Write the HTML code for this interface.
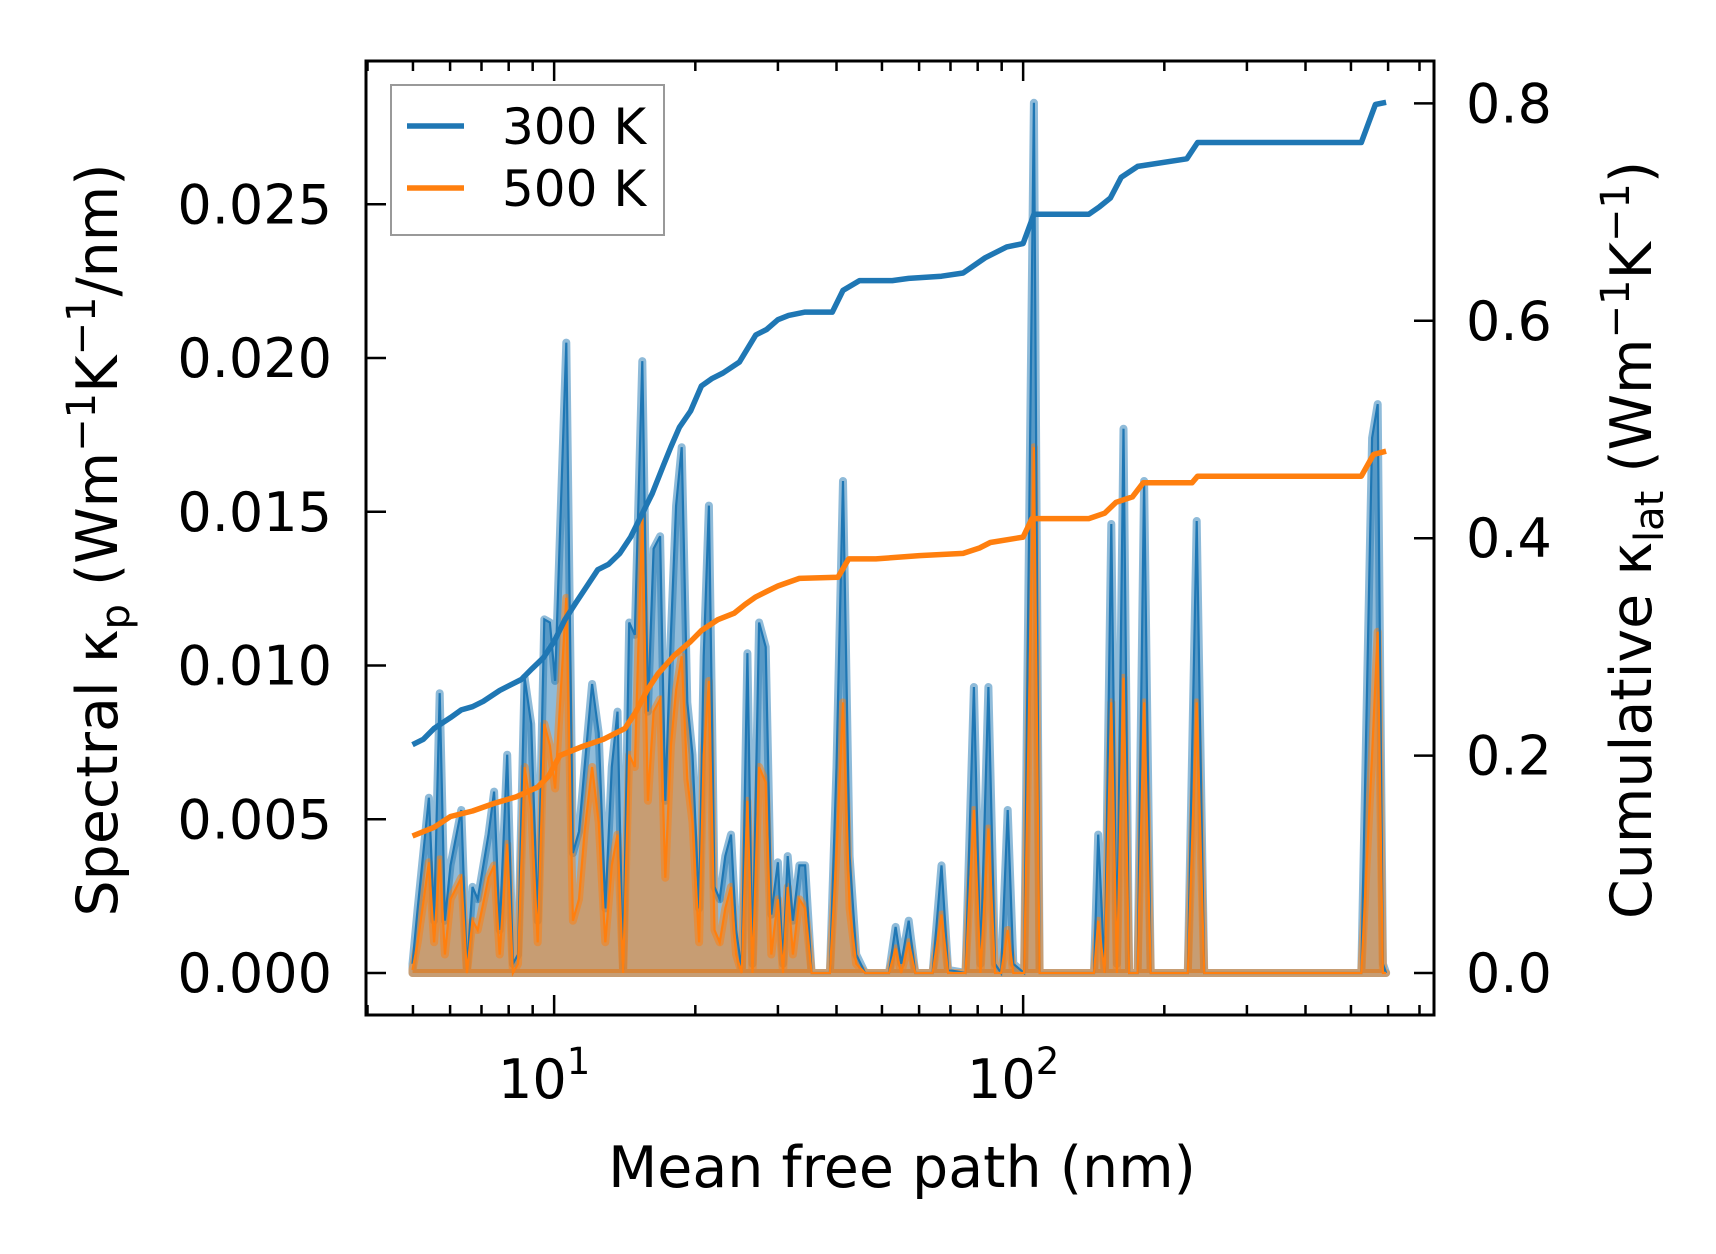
<!DOCTYPE html>
<html><head><meta charset="utf-8"><style>
html,body{margin:0;padding:0;background:#fff;}
svg{display:block;font-family:"DejaVu Sans","Liberation Sans",sans-serif;}
</style></head><body>
<svg id="chart" width="1716" height="1254" viewBox="0 0 1716 1254" xmlns="http://www.w3.org/2000/svg"></svg>
<script>
// ---- data (log10 of mean free path in nm, spectral kappa) ----
const specLogMfp = [0.698,0.709,0.733,0.744,0.756,0.767,0.779,0.802,0.814,0.826,0.837,0.860,0.872,0.884,0.900,0.912,0.923,0.937,0.951,0.965,0.979,0.991,1.002,1.026,1.040,1.053,1.065,1.081,1.095,1.109,1.123,1.135,1.147,1.160,1.172,1.188,1.200,1.212,1.226,1.237,1.249,1.260,1.272,1.284,1.295,1.309,1.319,1.330,1.342,1.353,1.365,1.377,1.388,1.400,1.412,1.423,1.437,1.451,1.463,1.477,1.488,1.498,1.509,1.523,1.535,1.549,1.588,1.602,1.616,1.630,1.644,1.663,1.714,1.728,1.740,1.756,1.770,1.807,1.826,1.840,1.877,1.895,1.909,1.926,1.940,1.953,1.967,1.979,2.002,2.023,2.035,2.151,2.160,2.174,2.188,2.200,2.214,2.226,2.244,2.258,2.272,2.351,2.370,2.386,2.721,2.744,2.756,2.767,2.774];
const spec300 = [0.0003,0.0021,0.0057,0.0017,0.0091,0.0017,0.0035,0.0053,0.0001,0.0028,0.0024,0.0045,0.0059,0.0014,0.0071,0.0003,0.0006,0.0096,0.0081,0.0017,0.0115,0.0114,0.0095,0.0205,0.0039,0.0046,0.0067,0.0094,0.0078,0.0021,0.0067,0.0085,0.0001,0.0114,0.0110,0.0199,0.0085,0.0138,0.0142,0.0056,0.0110,0.0152,0.0171,0.0088,0.0071,0.0021,0.0103,0.0152,0.0028,0.0024,0.0038,0.0045,0.0014,0.0001,0.0104,0.0003,0.0114,0.0106,0.0019,0.0036,0.0003,0.0038,0.0017,0.0035,0.0035,0,0,0.0067,0.0160,0.0038,0.0006,0,0,0.0015,0.0003,0.0017,0,0,0.0035,0.0001,0,0.0093,0.0003,0.0093,0.0003,0,0.0053,0.0003,0,0.0283,0,0,0.0045,0,0.0146,0.0003,0.0177,0,0,0.0160,0,0,0.0147,0,0,0.0174,0.0185,0.0003,0];
const spec500 = [0.0001,0.0010,0.0036,0.0010,0.0037,0.0006,0.0024,0.0031,0,0.0017,0.0014,0.0031,0.0035,0.0006,0.0042,0,0.0003,0.0067,0.0053,0.0010,0.0081,0.0074,0.0060,0.0122,0.0017,0.0024,0.0046,0.0067,0.0049,0.0010,0.0035,0.0045,0,0.0071,0.0067,0.0149,0.0056,0.0085,0.0089,0.0031,0.0074,0.0092,0.0103,0.0063,0.0049,0.0010,0.0071,0.0095,0.0014,0.0010,0.0021,0.0028,0.0006,0,0.0056,0,0.0067,0.0062,0.0006,0.0024,0,0.0028,0.0006,0.0024,0.0021,0,0,0.0039,0.0088,0.0021,0.0003,0,0,0.0008,0,0.0010,0,0,0.0019,0,0,0.0053,0,0.0047,0,0,0.0014,0,0,0.0171,0,0,0.0017,0,0.0088,0,0.0096,0,0,0.0088,0,0,0.0088,0,0,0.0071,0.0111,0,0];
const cumLogMfp300 = [0.698,0.721,0.744,0.779,0.802,0.826,0.849,0.884,0.907,0.930,0.953,0.977,1.000,1.023,1.047,1.070,1.093,1.116,1.140,1.163,1.186,1.209,1.233,1.249,1.267,1.291,1.314,1.337,1.360,1.395,1.430,1.453,1.477,1.500,1.535,1.593,1.616,1.651,1.721,1.756,1.826,1.872,1.919,1.965,2.000,2.023,2.140,2.163,2.186,2.209,2.244,2.349,2.372,2.721,2.751,2.774];
const cum300 = [0.210,0.215,0.225,0.235,0.242,0.245,0.250,0.260,0.265,0.270,0.280,0.290,0.305,0.325,0.341,0.356,0.371,0.376,0.386,0.401,0.421,0.441,0.467,0.484,0.502,0.517,0.540,0.547,0.552,0.562,0.587,0.592,0.601,0.605,0.608,0.608,0.628,0.637,0.637,0.639,0.641,0.644,0.658,0.668,0.671,0.698,0.698,0.705,0.713,0.732,0.742,0.749,0.764,0.764,0.799,0.801];
const cumLogMfp500 = [0.698,0.744,0.779,0.826,0.872,0.919,0.965,0.988,1.012,1.058,1.105,1.151,1.174,1.198,1.221,1.256,1.291,1.314,1.349,1.384,1.407,1.430,1.453,1.477,1.523,1.605,1.628,1.686,1.779,1.872,1.907,1.930,2.000,2.019,2.140,2.174,2.198,2.233,2.256,2.360,2.372,2.721,2.747,2.774];
const cum500 = [0.126,0.134,0.144,0.149,0.156,0.162,0.171,0.181,0.200,0.208,0.215,0.225,0.240,0.260,0.275,0.292,0.305,0.315,0.325,0.331,0.339,0.346,0.351,0.356,0.363,0.364,0.381,0.381,0.384,0.386,0.391,0.396,0.401,0.418,0.418,0.423,0.433,0.438,0.451,0.451,0.457,0.457,0.477,0.480];
const leftTicks = [0,0.005,0.010,0.015,0.020,0.025];
const leftTickLabels = ["0.000","0.005","0.010","0.015","0.020","0.025"];
const rightTicks = [0,0.2,0.4,0.6,0.8];
const rightTickLabels = ["0.0","0.2","0.4","0.6","0.8"];
const xMajorExp = [1,2];

// ---- axes ----
const L=366,R=1434,T=61,B=1015;
const xs = lg => 412.5 + (lg-0.698)*469;
const yl = v => 973 - v*30750;
const yr = v => 973 - v*1087;
const NS="http://www.w3.org/2000/svg";
const svg=document.getElementById('chart');
function mk(tag,attrs,parent){const e=document.createElementNS(NS,tag);for(const k in attrs)e.setAttribute(k,attrs[k]);(parent||svg).appendChild(e);return e;}

const gPlot=mk('g',{});



function areaPath(xsArr,ys){let d='M'+xs(xsArr[0]).toFixed(1)+','+yl(0);for(let i=0;i<xsArr.length;i++)d+='L'+xs(xsArr[i]).toFixed(1)+','+yl(ys[i]).toFixed(1);d+='L'+xs(xsArr[xsArr.length-1]).toFixed(1)+','+yl(0)+'Z';return d;}
function linePath(xsArr,ys,yf){let d='';for(let i=0;i<xsArr.length;i++)d+=(i?'L':'M')+xs(xsArr[i]).toFixed(1)+','+yf(ys[i]).toFixed(1);return d;}

const a3=mk('path',{d:areaPath(specLogMfp,spec300),fill:'#1f77b4','fill-opacity':0.5,stroke:'#1f77b4','stroke-opacity':0.5,'stroke-width':8,'stroke-linejoin':'round'},gPlot);


const a5=mk('path',{d:areaPath(specLogMfp,spec500),fill:'#ff7f0e','fill-opacity':0.5,stroke:'#ff7f0e','stroke-opacity':0.5,'stroke-width':8,'stroke-linejoin':'round'},gPlot);


const l3=mk('path',{d:linePath(specLogMfp,spec300,yl),fill:'none',stroke:'#1f77b4','stroke-width':2.2},gPlot);


const l5=mk('path',{d:linePath(specLogMfp,spec500,yl),fill:'none',stroke:'#ff7f0e','stroke-width':2.2},gPlot);


const c3=mk('path',{d:linePath(cumLogMfp300,cum300,yr),fill:'none',stroke:'#1f77b4','stroke-width':5.5,'stroke-linejoin':'round'},gPlot);


const c5=mk('path',{d:linePath(cumLogMfp500,cum500,yr),fill:'none',stroke:'#ff7f0e','stroke-width':5.5,'stroke-linejoin':'round'},gPlot);



// frame
const frame=mk('rect',{x:L,y:T,width:R-L,height:B-T,fill:'none',stroke:'#000','stroke-width':3});



// ticks
const gT=mk('g',{stroke:'#000','stroke-width':2.5});


for(let dec=0;dec<=2;dec++){for(let m=1;m<10;m++){const lg=dec+Math.log10(m);const x=xs(lg);if(x<L||x>R)continue;const len=m===1?20:10;mk('line',{x1:x,y1:B,x2:x,y2:B-len},gT);mk('line',{x1:x,y1:T,x2:x,y2:T+len},gT);}}
leftTicks.forEach(v=>mk('line',{x1:L,y1:yl(v),x2:L+20,y2:yl(v)},gT));
rightTicks.forEach(v=>mk('line',{x1:R,y1:yr(v),x2:R-20,y2:yr(v)},gT));

// tick labels
leftTicks.forEach((v,i)=>{const t=mk('text',{x:332,y:yl(v)+19,'text-anchor':'end','font-size':54});t.textContent=leftTickLabels[i];

});
rightTicks.forEach((v,i)=>{const t=mk('text',{x:1466,y:yr(v)+19,'font-size':54});t.textContent=rightTickLabels[i];

});
xMajorExp.forEach(e=>{const t=mk('text',{x:xs(e)-10,y:1098,'text-anchor':'middle','font-size':54});t.textContent='10';const s=mk('tspan',{'font-size':37,dy:-24},t);s.textContent=String(e);

});
</script>
<svg style="position:absolute;left:0;top:0" width="1716" height="1254">
<text x="902" y="1187" text-anchor="middle" font-size="57" font-family="DejaVu Sans, Liberation Sans, sans-serif">Mean free path (nm)</text>
<text transform="translate(117,540) rotate(-90)" text-anchor="middle" font-size="57" font-family="DejaVu Sans, Liberation Sans, sans-serif">Spectral κ<tspan font-size="40" dy="12">p</tspan><tspan dy="-12"> (Wm</tspan><tspan font-size="40" dy="-22">−1</tspan><tspan dy="22">K</tspan><tspan font-size="40" dy="-22">−1</tspan><tspan dy="22">/nm)</tspan></text>
<text transform="translate(1651,540) rotate(-90)" text-anchor="middle" font-size="57" font-family="DejaVu Sans, Liberation Sans, sans-serif">Cumulative κ<tspan font-size="40" dy="12">lat</tspan><tspan dy="-12"> (Wm</tspan><tspan font-size="40" dy="-22">−1</tspan><tspan dy="22">K</tspan><tspan font-size="40" dy="-22">−1</tspan><tspan dy="22">)</tspan></text>
<g>
<rect x="391" y="85" width="273" height="150" fill="#fff" fill-opacity="0.8" stroke="#999" stroke-width="2"/>
<line x1="407" y1="126" x2="464" y2="126" stroke="#1f77b4" stroke-width="5.5"/>
<text x="502" y="144" font-size="50" font-family="DejaVu Sans, Liberation Sans, sans-serif">300 K</text>
<line x1="407" y1="188" x2="464" y2="188" stroke="#ff7f0e" stroke-width="5.5"/>
<text x="502" y="206" font-size="50" font-family="DejaVu Sans, Liberation Sans, sans-serif">500 K</text>
</g>
</svg>
</body></html>
